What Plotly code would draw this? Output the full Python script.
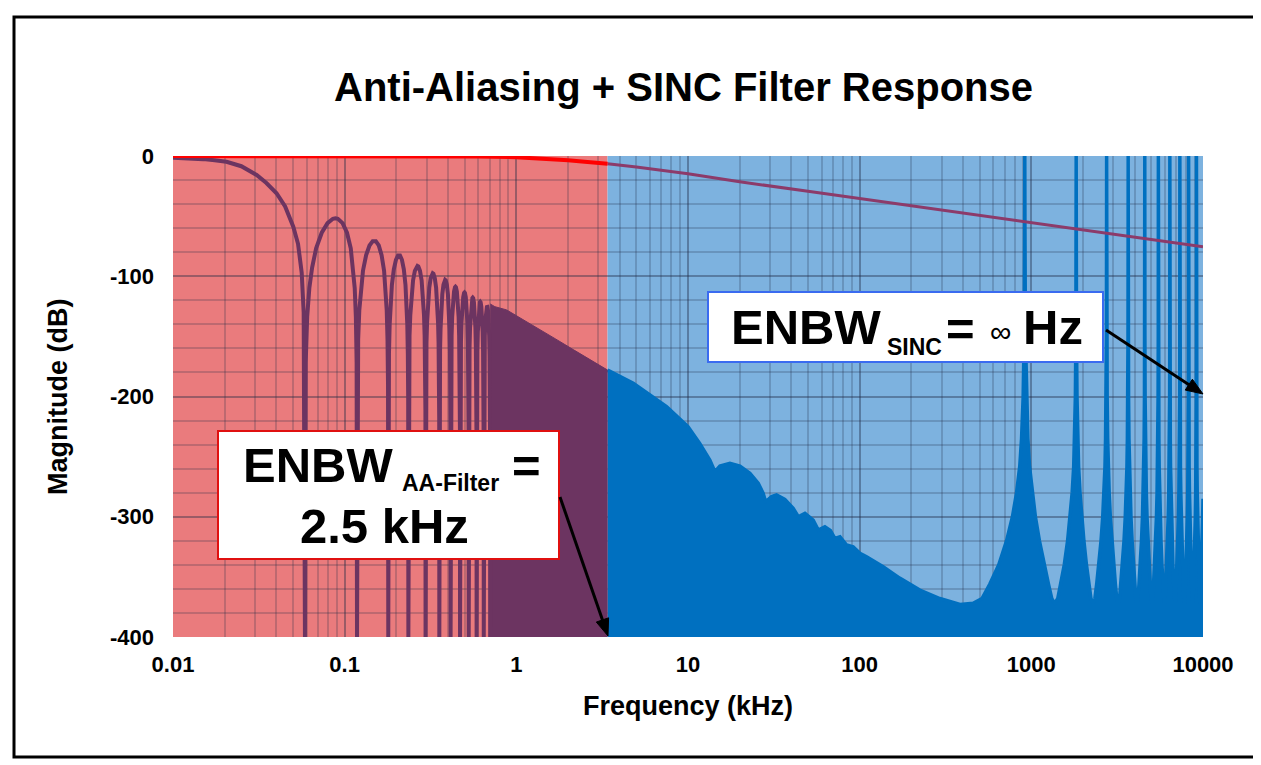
import plotly.graph_objects as go

# ---------------- data ----------------
X_TICKS = [0.01, 0.1, 1, 10, 100, 1000, 10000]
X_TICK_LABELS = ["0.01", "0.1", "1", "10", "100", "1000", "10000"]
Y_TICKS = [0, -100, -200, -300, -400]
Y_TICK_LABELS = ["0", "-100", "-200", "-300", "-400"]

AA_EDGE_KHZ = 3.4          # edge between red (AA) and blue (SINC) regions
FLOOR_DB = -400

# anti-aliasing filter response (top line)
AA_F = [0.01, 0.3, 0.6, 1, 1.5, 2, 2.5, 3.4, 5, 10, 20, 50, 100, 293, 1000, 1751, 5000, 10000]
AA_DB = [0, -0.1, -0.4, -1.0, -2.2, -3.6, -4.8, -6.5, -9.2, -14.8, -21.4, -29.4, -35.4, -44.7,
         -55.4, -60.3, -69.4, -75.4]

# SINC main lobe
MAIN_F = [0.01, 0.0125, 0.015, 0.0175, 0.0205, 0.025, 0.0307, 0.035, 0.0401, 0.045, 0.0502,
          0.0535, 0.0562, 0.0577, 0.0587]
MAIN_DB = [-1.5, -1.9, -2.6, -3.5, -4.8, -8.5, -15.8, -22.5, -31, -42, -58.8, -73, -97, -130, -400]

# SINC side lobes: null frequencies and lobe peak levels
NULLS_KHZ = [0.0587, 0.118, 0.1795, 0.235, 0.296, 0.356, 0.414, 0.470, 0.528, 0.587, 0.646, 0.704]
LOBE_PEAK_DB = [-51.8, -70.4, -82.3, -91.5, -97.6, -103, -108.7, -113.5, -117.8, -121.3, -124.5]
# side-lobe shape read from the first lobe (position within lobe, dB below lobe peak)
LOBE_T = [0.0, 0.01, 0.03, 0.06, 0.10, 0.16, 0.25, 0.35, 0.45, 0.50, 0.55, 0.65, 0.75, 0.84,
          0.90, 0.94, 0.97, 0.99, 1.0]
LOBE_REL_DB = [-999, -120, -82, -58, -41, -25, -12, -4, -0.4, 0, -0.4, -4, -12, -25, -41, -58,
               -82, -120, -999]

# dense SINC region below the AA edge (envelope)
DENSE_F = [0.704, 0.75, 0.878, 1.0, 1.373, 1.7, 2.145, 2.7, 3.4]
DENSE_DB = [-123, -125.3, -128, -132.7, -144.5, -152.3, -161, -169.5, -178]

# SINC envelope above the AA edge (baseband)
BASE_F = [3.4, 4.8, 7.5, 10.0, 11.7, 13.4, 14.35, 15.34, 17.55, 20.06, 22.94, 25.64, 27.42, 28.3,
          30.69, 32.8, 36.66, 41.0, 43.9, 48.0, 53.6, 57.4, 62.7, 67.5, 71.7, 76.8, 83.9, 91.6,
          100.3, 109.7, 137, 171, 224, 293, 384]
BASE_DB = [-178, -189, -208.5, -225, -239, -252.8, -262.5, -257.8, -255.6, -257.8, -263.9, -272.2,
           -280.5, -287.5, -283.3, -281.9, -285.5, -293, -300, -297.1, -302.7, -311, -308.3,
           -311.5, -318, -316.6, -323.5, -325, -330.4, -333.2, -341.5, -351, -361, -368, -373]

# SINC images at multiples of the modulator clock
PEAKS_KHZ = [916, 1825, 2745, 3665, 4580, 5495, 6410, 7330, 8245, 9160]
PEAK_DKHZ = [-458, -400, -343, -270, -199, -140, -96, -60, -39, -20, -8, -2, 0, 2, 8, 20, 39, 60,
             96, 140, 199, 270, 343, 400]
PEAK_DB = [-372, -368, -356, -340, -320, -300, -280, -258, -235, -200, -150, -60, 0, -60, -150,
           -200, -235, -258, -280, -300, -320, -340, -356, -368]
TAIL_F = [9618, 9800, 9930, 10000]
TAIL_DB = [-372, -341, -305, -285]

# ---------------- styling ----------------
FONT = "Liberation Sans, Arial, sans-serif"
RED_BG = "#EA7B7D"
BLUE_BG = "#7DB2DF"
SINC_BLUE = "#0070C0"
SINC_PURPLE = "#6C3461"
AA_RED = "#FF0000"
AA_PURPLE = "#8C3B6A"
GRID = "rgba(30,40,70,0.22)"

OFF = 8                      # page offset of the plot div
W, H = 1261 - OFF, 765 - OFF
L, R, T, B = 173, 1203, 156, 637   # plot area in window pixels


def PX(x):
    return (x - L) / (R - L)


def PY(y):
    return (B - y) / (B - T)


fig = go.Figure()

# blue SINC fill (3.4 kHz .. 10 MHz)
alias_f, alias_db = [], []
for c in PEAKS_KHZ:
    for d, v in zip(PEAK_DKHZ, PEAK_DB):
        alias_f.append(c + d)
        alias_db.append(v)
blue_f = BASE_F + alias_f + TAIL_F
blue_db = BASE_DB + alias_db + TAIL_DB
fig.add_trace(go.Scatter(x=[AA_EDGE_KHZ, X_TICKS[-1]], y=[FLOOR_DB, FLOOR_DB], mode="lines",
                         line=dict(width=0), hoverinfo="skip", showlegend=False))
fig.add_trace(go.Scatter(x=blue_f, y=blue_db, mode="lines", fill="tonexty", fillcolor=SINC_BLUE,
                         line=dict(color=SINC_BLUE, width=3.5), showlegend=False))

# purple dense SINC fill (0.7 .. 3.4 kHz)
fig.add_trace(go.Scatter(x=[DENSE_F[0], DENSE_F[-1]], y=[FLOOR_DB, FLOOR_DB], mode="lines",
                         line=dict(width=0), hoverinfo="skip", showlegend=False))
fig.add_trace(go.Scatter(x=DENSE_F, y=DENSE_DB, mode="lines", fill="tonexty",
                         fillcolor=SINC_PURPLE, line=dict(color=SINC_PURPLE, width=1),
                         showlegend=False))

# SINC main lobe + side lobes line
lob_f = list(MAIN_F)
lob_db = list(MAIN_DB)
for i, pk in enumerate(LOBE_PEAK_DB):
    a, b = NULLS_KHZ[i], NULLS_KHZ[i + 1]
    for t, rel in zip(LOBE_T, LOBE_REL_DB):
        lob_f.append(a + t * (b - a))
        lob_db.append(max(pk + rel, FLOOR_DB))
fig.add_trace(go.Scatter(x=lob_f, y=lob_db, mode="lines",
                         line=dict(color=SINC_PURPLE, width=4), showlegend=False))

# AA filter line
red_part = [(f, d) for f, d in zip(AA_F, AA_DB) if f <= AA_EDGE_KHZ]
pur_part = [(f, d) for f, d in zip(AA_F, AA_DB) if f >= AA_EDGE_KHZ]
fig.add_trace(go.Scatter(x=[p[0] for p in pur_part], y=[p[1] for p in pur_part], mode="lines",
                         line=dict(color=AA_PURPLE, width=3), showlegend=False))
fig.add_trace(go.Scatter(x=[p[0] for p in red_part], y=[p[1] for p in red_part], mode="lines",
                         line=dict(color=AA_RED, width=4), showlegend=False))


def arrow_shapes(x0, y0, x1, y1, head_len=17, head_half=6.5, width=3):
    dx, dy = x1 - x0, y1 - y0
    n = (dx * dx + dy * dy) ** 0.5
    ux, uy = dx / n, dy / n
    bx, by = x1 - ux * head_len, y1 - uy * head_len
    px_, py_ = -uy, ux
    c1 = (bx + px_ * head_half, by + py_ * head_half)
    c2 = (bx - px_ * head_half, by - py_ * head_half)
    path = "M {:.5f} {:.5f} L {:.5f} {:.5f} L {:.5f} {:.5f} Z".format(
        PX(x1), PY(y1), PX(c1[0]), PY(c1[1]), PX(c2[0]), PY(c2[1]))
    return [
        dict(type="line", xref="paper", yref="paper", x0=PX(x0), y0=PY(y0),
             x1=PX(bx + ux * 2), y1=PY(by + uy * 2), line=dict(color="black", width=width),
             layer="above"),
        dict(type="path", xref="paper", yref="paper", path=path, fillcolor="black",
             line=dict(color="black", width=1), layer="above"),
    ]


shapes = [
    dict(type="rect", xref="x", yref="paper", x0=X_TICKS[0], x1=AA_EDGE_KHZ, y0=0, y1=1,
         fillcolor=RED_BG, line=dict(width=0), layer="below"),
    dict(type="rect", xref="x", yref="paper", x0=AA_EDGE_KHZ, x1=X_TICKS[-1], y0=0, y1=1,
         fillcolor=BLUE_BG, line=dict(width=0), layer="below"),
    # outer frame
    dict(type="rect", xref="paper", yref="paper", x0=PX(14), x1=PX(1255), y0=PY(757), y1=PY(17),
         line=dict(color="black", width=3), fillcolor="rgba(0,0,0,0)", layer="above"),
    # ENBW boxes
    dict(type="rect", xref="paper", yref="paper", x0=PX(218), x1=PX(559), y0=PY(559), y1=PY(431),
         line=dict(color="#E01010", width=2), fillcolor="white", layer="above"),
    dict(type="rect", xref="paper", yref="paper", x0=PX(708), x1=PX(1103), y0=PY(362), y1=PY(292),
         line=dict(color="#3A6BF0", width=2), fillcolor="white", layer="above"),
]
shapes += arrow_shapes(560, 497, 608, 636)
shapes += arrow_shapes(1106, 330, 1203, 394)


def label(text, x, y, size, xanchor="center", angle=0, weight="bold"):
    return dict(text=text, xref="paper", yref="paper", x=PX(x), y=PY(y), showarrow=False,
                xanchor=xanchor, yanchor="middle", textangle=angle,
                font=dict(family=FONT, color="black", size=size, weight=weight))


annotations = [
    label("Anti-Aliasing + SINC Filter Response", 683, 87, 40),
    label("Frequency (kHz)", 688, 706, 27),
    label("Magnitude (dB)", 58, 397, 27, angle=-90),
    # AA box
    label("ENBW", 395, 465, 49, xanchor="right"),
    label("AA-Filter", 400, 483, 23, xanchor="left"),
    label("=", 510, 466, 49, xanchor="left"),
    label("2.5 kHz", 384, 526, 49),
    # SINC box
    label("ENBW", 883, 327, 49, xanchor="right"),
    label("SINC", 885, 347, 23, xanchor="left"),
    label("=", 944, 329, 49, xanchor="left"),
    label("\u221e", 1000, 331, 30, weight="normal"),
    label("Hz", 1021, 327, 49, xanchor="left"),
]

bold = dict(family=FONT, color="black", weight="bold")
fig.update_layout(
    width=W, height=H,
    margin=dict(l=L - OFF, r=W - (R - OFF), t=T - OFF, b=H - (B - OFF)),
    paper_bgcolor="white", plot_bgcolor="white",
    shapes=shapes, annotations=annotations, showlegend=False,
    font=dict(family=FONT, color="black"),
)
fig.update_xaxes(type="log", range=[-2, 4], tickmode="array", tickvals=X_TICKS,
                 ticktext=X_TICK_LABELS, showgrid=True, gridcolor=GRID, gridwidth=1.5,
                 minor=dict(dtick="D1", showgrid=True, gridcolor=GRID, gridwidth=1.5),
                 zeroline=False, showline=False, ticks="", ticklabelstandoff=12,
                 tickfont=dict(size=22, **bold))
fig.update_yaxes(range=[-400, 0], tickmode="array", tickvals=Y_TICKS, ticktext=Y_TICK_LABELS,
                 showgrid=True, gridcolor=GRID, gridwidth=1.5,
                 minor=dict(dtick=20, tick0=0, showgrid=True, gridcolor=GRID, gridwidth=1.5),
                 zeroline=False, showline=False, ticks="", ticklabelstandoff=18,
                 tickfont=dict(size=22, **bold))

fig.write_html("out.html")
